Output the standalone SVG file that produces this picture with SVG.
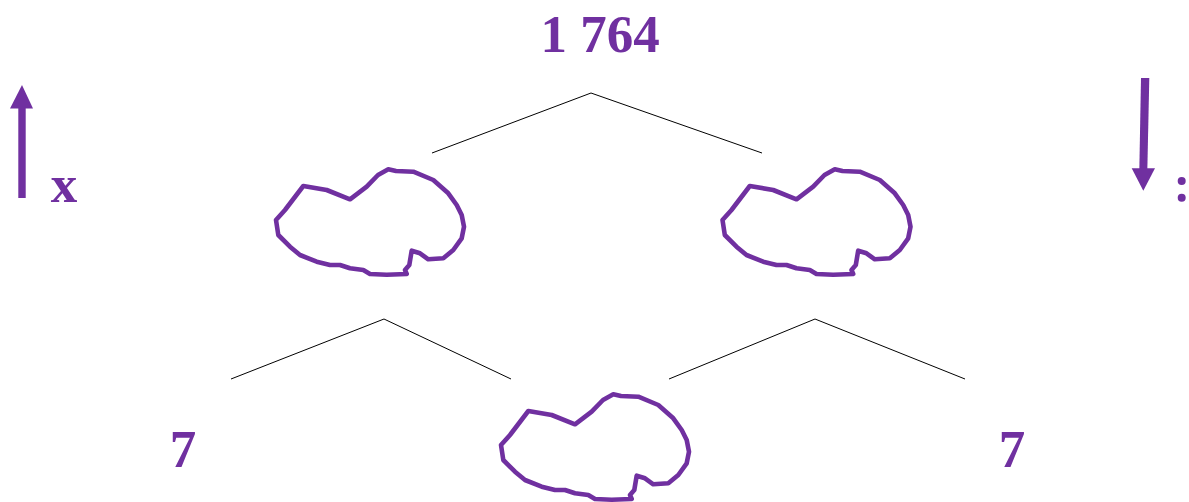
<svg xmlns="http://www.w3.org/2000/svg" xmlns:xlink="http://www.w3.org/1999/xlink" width="1189" height="502" viewBox="0 0 1189 502">
<style>
.t{font-family:"Liberation Serif","Times New Roman",serif;font-weight:bold;fill:#7030A0;font-size:53px}
.c{fill:none;stroke:#7030A0;stroke-width:4.6;stroke-linejoin:round;stroke-linecap:round}
.l{stroke:#000;stroke-width:1;fill:none}
.a{fill:#7030A0}
</style>
<defs>
<path id="cloud" class="c" d="M303.3,186 L326.7,190 L350,199.3 L366.7,186.7 L378,175 L388.3,169.3 L396,171 L413.3,171.7 L433.3,180 L448.3,193.3 L456.7,205 L461.7,215 L464,226.7 L461.7,238.3 L453.3,250 L443.3,258.3 L428.3,259.3 L420,253.3 L411.7,250.7 L409.3,265 L405,270 L406.7,274 L386.7,274.7 L370,274 L363.3,270 L350,268.3 L340,265 L330,265 L316.7,261.7 L300,255 L290,246.7 L278.3,235 L276,220 L285,210 Z"/>
</defs>
<rect width="1189" height="502" fill="#fff"/>
<g id="connectors">
<path class="l" d="M591,93 L432,153 M591,93 L762,153"/>
<path class="l" d="M384,319 L231,379 M384,319 L511,379"/>
<path class="l" d="M815,319 L669,379 M815,319 L965,379"/>
</g>
<g id="root"><text class="t" x="600" y="52" text-anchor="middle">1 764</text></g>
<g id="cloud-left"><use xlink:href="#cloud"/></g>
<g id="cloud-right"><use xlink:href="#cloud" transform="translate(446.5,0)"/></g>
<g id="cloud-bottom"><use xlink:href="#cloud" transform="translate(225,225)"/></g>
<g id="leaf-left"><text class="t" x="183" y="467" text-anchor="middle">7</text></g>
<g id="leaf-right"><text class="t" x="1012" y="467" text-anchor="middle">7</text></g>
<g id="arrow-up">
<rect class="a" x="18.3" y="105" width="7.4" height="93"/>
<path class="a" d="M10,108.5 L22,85 L33,108.5 Z"/>
<text class="t" x="64" y="202" text-anchor="middle">x</text>
</g>
<g id="arrow-down">
<path class="a" d="M1141,78 L1149.3,78 L1147.3,171 L1139.3,171 Z"/>
<path class="a" d="M1131.7,168.3 L1155,168.3 L1143.3,190.7 Z"/>
<circle class="a" cx="1181.7" cy="181" r="4"/>
<circle class="a" cx="1181.7" cy="197.7" r="4"/>
</g>
</svg>
